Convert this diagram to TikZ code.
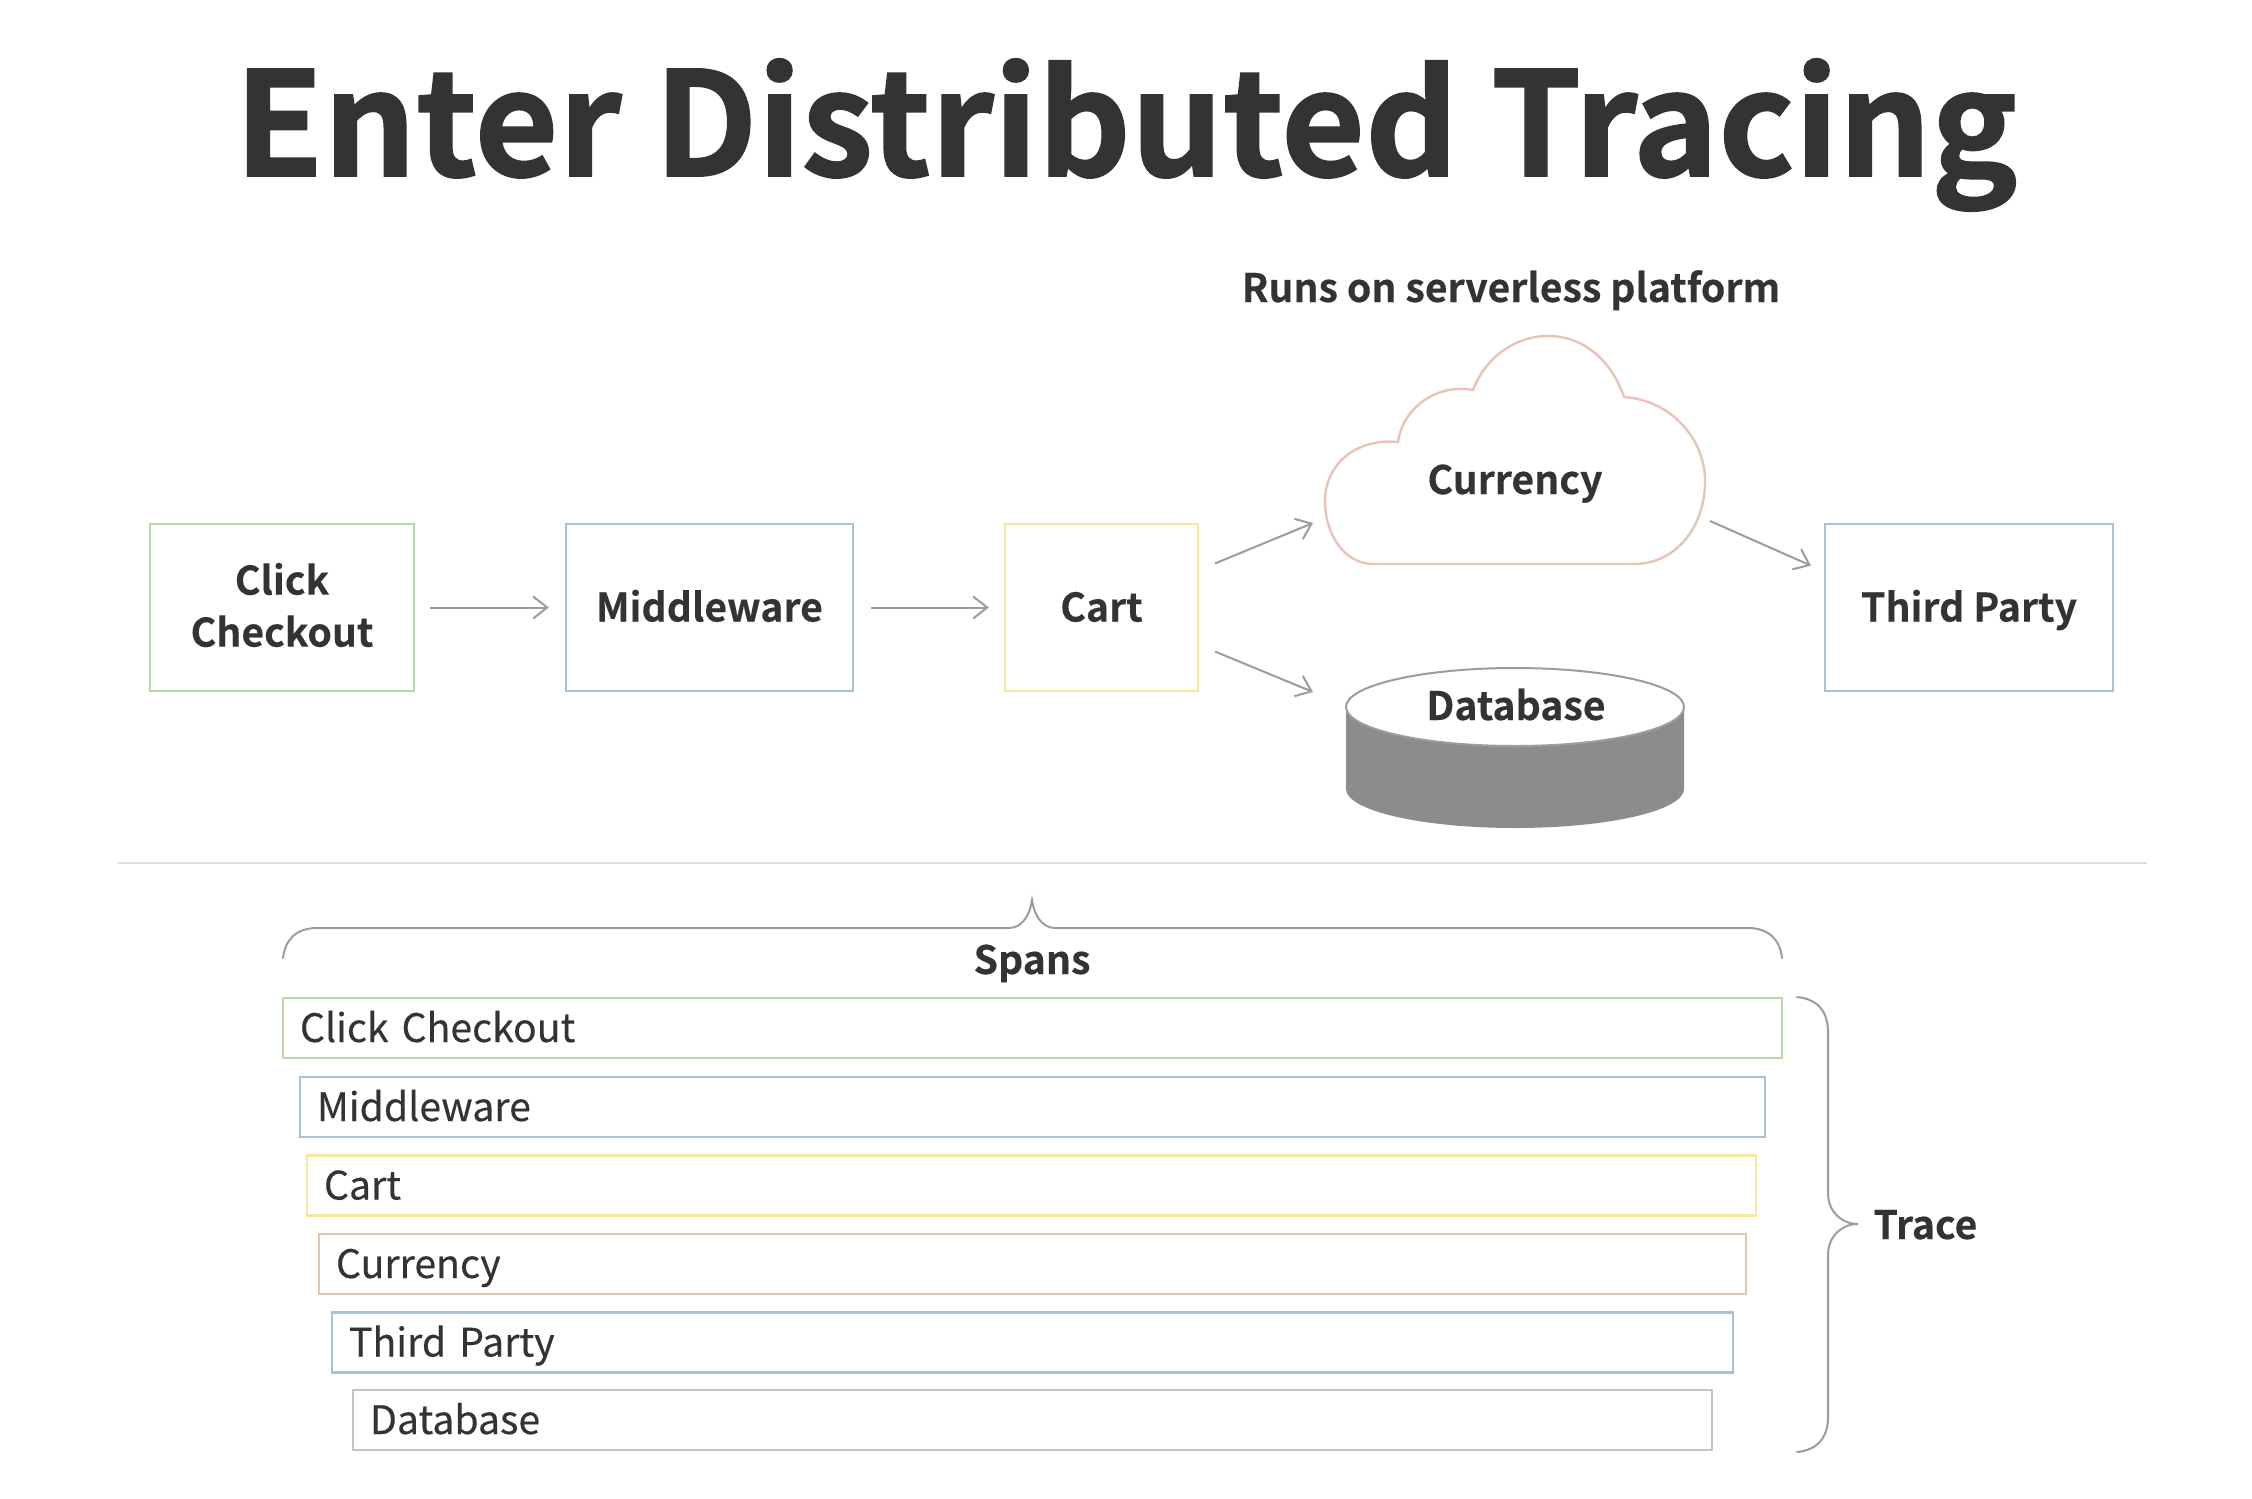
\documentclass[tikz,border=0pt]{standalone}
\usepackage{fontspec}
\usetikzlibrary{arrows.meta}
\newfontfamily\titlefont[FakeBold=1.2]{Noto Sans CJK SC Bold}
\newfontfamily\labelfont[FakeBold=0.25]{Noto Sans CJK SC Bold}
\newfontfamily\rowfont[FakeBold=0.3]{Noto Sans CJK SC}
\definecolor{ink}{HTML}{333333}
\definecolor{cgreen}{HTML}{B8D8A8}
\definecolor{cblue}{HTML}{A2C4D4}
\definecolor{cyellow}{HTML}{F6E79F}
\definecolor{cpink}{HTML}{E8C4B8}
\definecolor{cgray}{HTML}{C4C4C4}
\definecolor{cline}{HTML}{9C9C9C}
\tikzset{
  flowbox/.style={draw=#1,line width=1.2pt,minimum height=83.5pt,inner sep=0pt,align=center,text=ink,text height=16pt,text depth=2pt,font=\labelfont\fontsize{19.6}{26}\selectfont},
  rowbox/.style={draw=#1,line width=1.2pt,minimum height=30pt,inner ysep=0pt,inner xsep=8.5pt,align=left,text=ink,text height=16pt,text depth=2pt,font=\rowfont\fontsize{19.6}{26}\selectfont},
  boldlabel/.style={text=ink,inner sep=0pt,text height=16pt,text depth=2pt,font=\labelfont\fontsize{19.6}{26}\selectfont},
  flowarrow/.style={draw=cline,line width=1pt,-{Straight Barb[length=7pt,width=11pt,line width=1pt]}},
  bracepath/.style={draw=cline,line width=1pt,line cap=round},
}
\begin{document}
\begin{tikzpicture}[x=0.5pt,y=-0.5pt]
\useasboundingbox (0,0) rectangle (2252,1498);
\fill[white] (0,0) rectangle (2252,1498);
% title
\node[text=ink,inner sep=0pt,font=\titlefont\fontsize{72.3}{80}\selectfont] (title) at (1126,135) {Enter Distributed Tracing};
\node[boldlabel] (runs) at (1511,288) {Runs on serverless platform};
% boxes
\node[flowbox=cgreen,minimum width=132pt,text height={},text depth={}] (click) at (282,607.5) {};
\node[text=ink,inner sep=0pt,align=center,font=\labelfont\fontsize{19.6}{26}\selectfont] (clicktext) at (282,605) {Click\\Checkout};
\node[flowbox=cblue,minimum width=143.5pt] (mw) at (709.5,607.5) {Middleware};
\node[flowbox=cyellow,minimum width=96.5pt] (cart) at (1101.5,607.5) {Cart};
\node[flowbox=cblue,minimum width=144pt] (tp) at (1969,607.5) {Third Party};
% cloud
\draw[draw=cpink,line width=1.2pt,fill=white]
  (1373,564) .. controls (1345,564) and (1325,535) .. (1325,501)
  .. controls (1325,465) and (1355,438) .. (1398,442)
  .. controls (1402,410) and (1435,383) .. (1473,390)
  .. controls (1485,358) and (1515,336) .. (1548,336)
  .. controls (1585,336) and (1612,362) .. (1624,397)
  .. controls (1670,400) and (1705,438) .. (1705,481)
  .. controls (1705,528) and (1675,564) .. (1634,564)
  -- cycle;
\node[boldlabel] (currency) at (1515,480) {Currency};
% database
\fill[fill=black!45!white] (1346,707) -- (1346,789) arc[start angle=180,end angle=0,x radius=169,y radius=39] -- (1684,707) -- cycle;
\draw[draw=cline,line width=1pt,fill=white] (1515,707) ellipse[x radius=169,y radius=39];
\node[boldlabel] (database) at (1516,706) {Database};
% connectors
\coordinate (cloudin) at (1313,523);
\coordinate (cloudout) at (1710,521);
\coordinate (dbin) at (1313,692);
\draw[flowarrow,shorten <=7.5pt,shorten >=8pt] (click.east) -- (mw.west);
\draw[flowarrow,shorten <=8.5pt,shorten >=7.5pt] (mw.east) -- (cart.west);
\draw[flowarrow,shorten <=8.6pt] (cart.21) -- (cloudin);
\draw[flowarrow,shorten <=8.6pt] (cart.-21) -- (dbin);
\draw[flowarrow,shorten >=7pt] (cloudout) -- (tp.166);
% divider
\coordinate (divl) at (118,863);
\coordinate (divr) at (2147,863);
\draw[draw=black!13,line width=1pt] (divl) -- (divr);
% spans brace
\draw[bracepath] (283,958) .. controls (285,940) and (296,928) .. (317,928) -- (1009,928)
  .. controls (1022,928) and (1030,915) .. (1032,900)
  .. controls (1034,915) and (1042,928) .. (1055,928) -- (1748,928)
  .. controls (1769,928) and (1780,940) .. (1782,958);
\node[boldlabel] (spans) at (1032,960) {Spans};
% rows
\node[rowbox=cgreen,text width=732.5pt] (r1) at (1032.5,1028) {Click Checkout};
\node[rowbox=cblue,text width=715.5pt] (r2) at (1032.5,1107) {Middleware};
\node[rowbox=cyellow,text width=707.5pt] (r3) at (1031.5,1185.5) {Cart};
\node[rowbox=cpink,text width=696.5pt] (r4) at (1032.5,1264) {Currency};
\node[rowbox=cblue,text width=683.5pt] (r5) at (1032.5,1342.5) {Third Party};
\node[rowbox=cgray,text width=662.5pt] (r6) at (1032.5,1420) {Database};
% trace brace
\draw[bracepath] (1797,997) .. controls (1818,999) and (1828,1012) .. (1828,1032) -- (1828,1193)
  .. controls (1828,1212) and (1842,1224) .. (1858,1224)
  .. controls (1842,1224) and (1828,1236) .. (1828,1255) -- (1828,1417)
  .. controls (1828,1437) and (1818,1450) .. (1797,1452);
\node[boldlabel,anchor=west] (trace) at (1873,1225) {Trace};
\end{tikzpicture}
\end{document}
